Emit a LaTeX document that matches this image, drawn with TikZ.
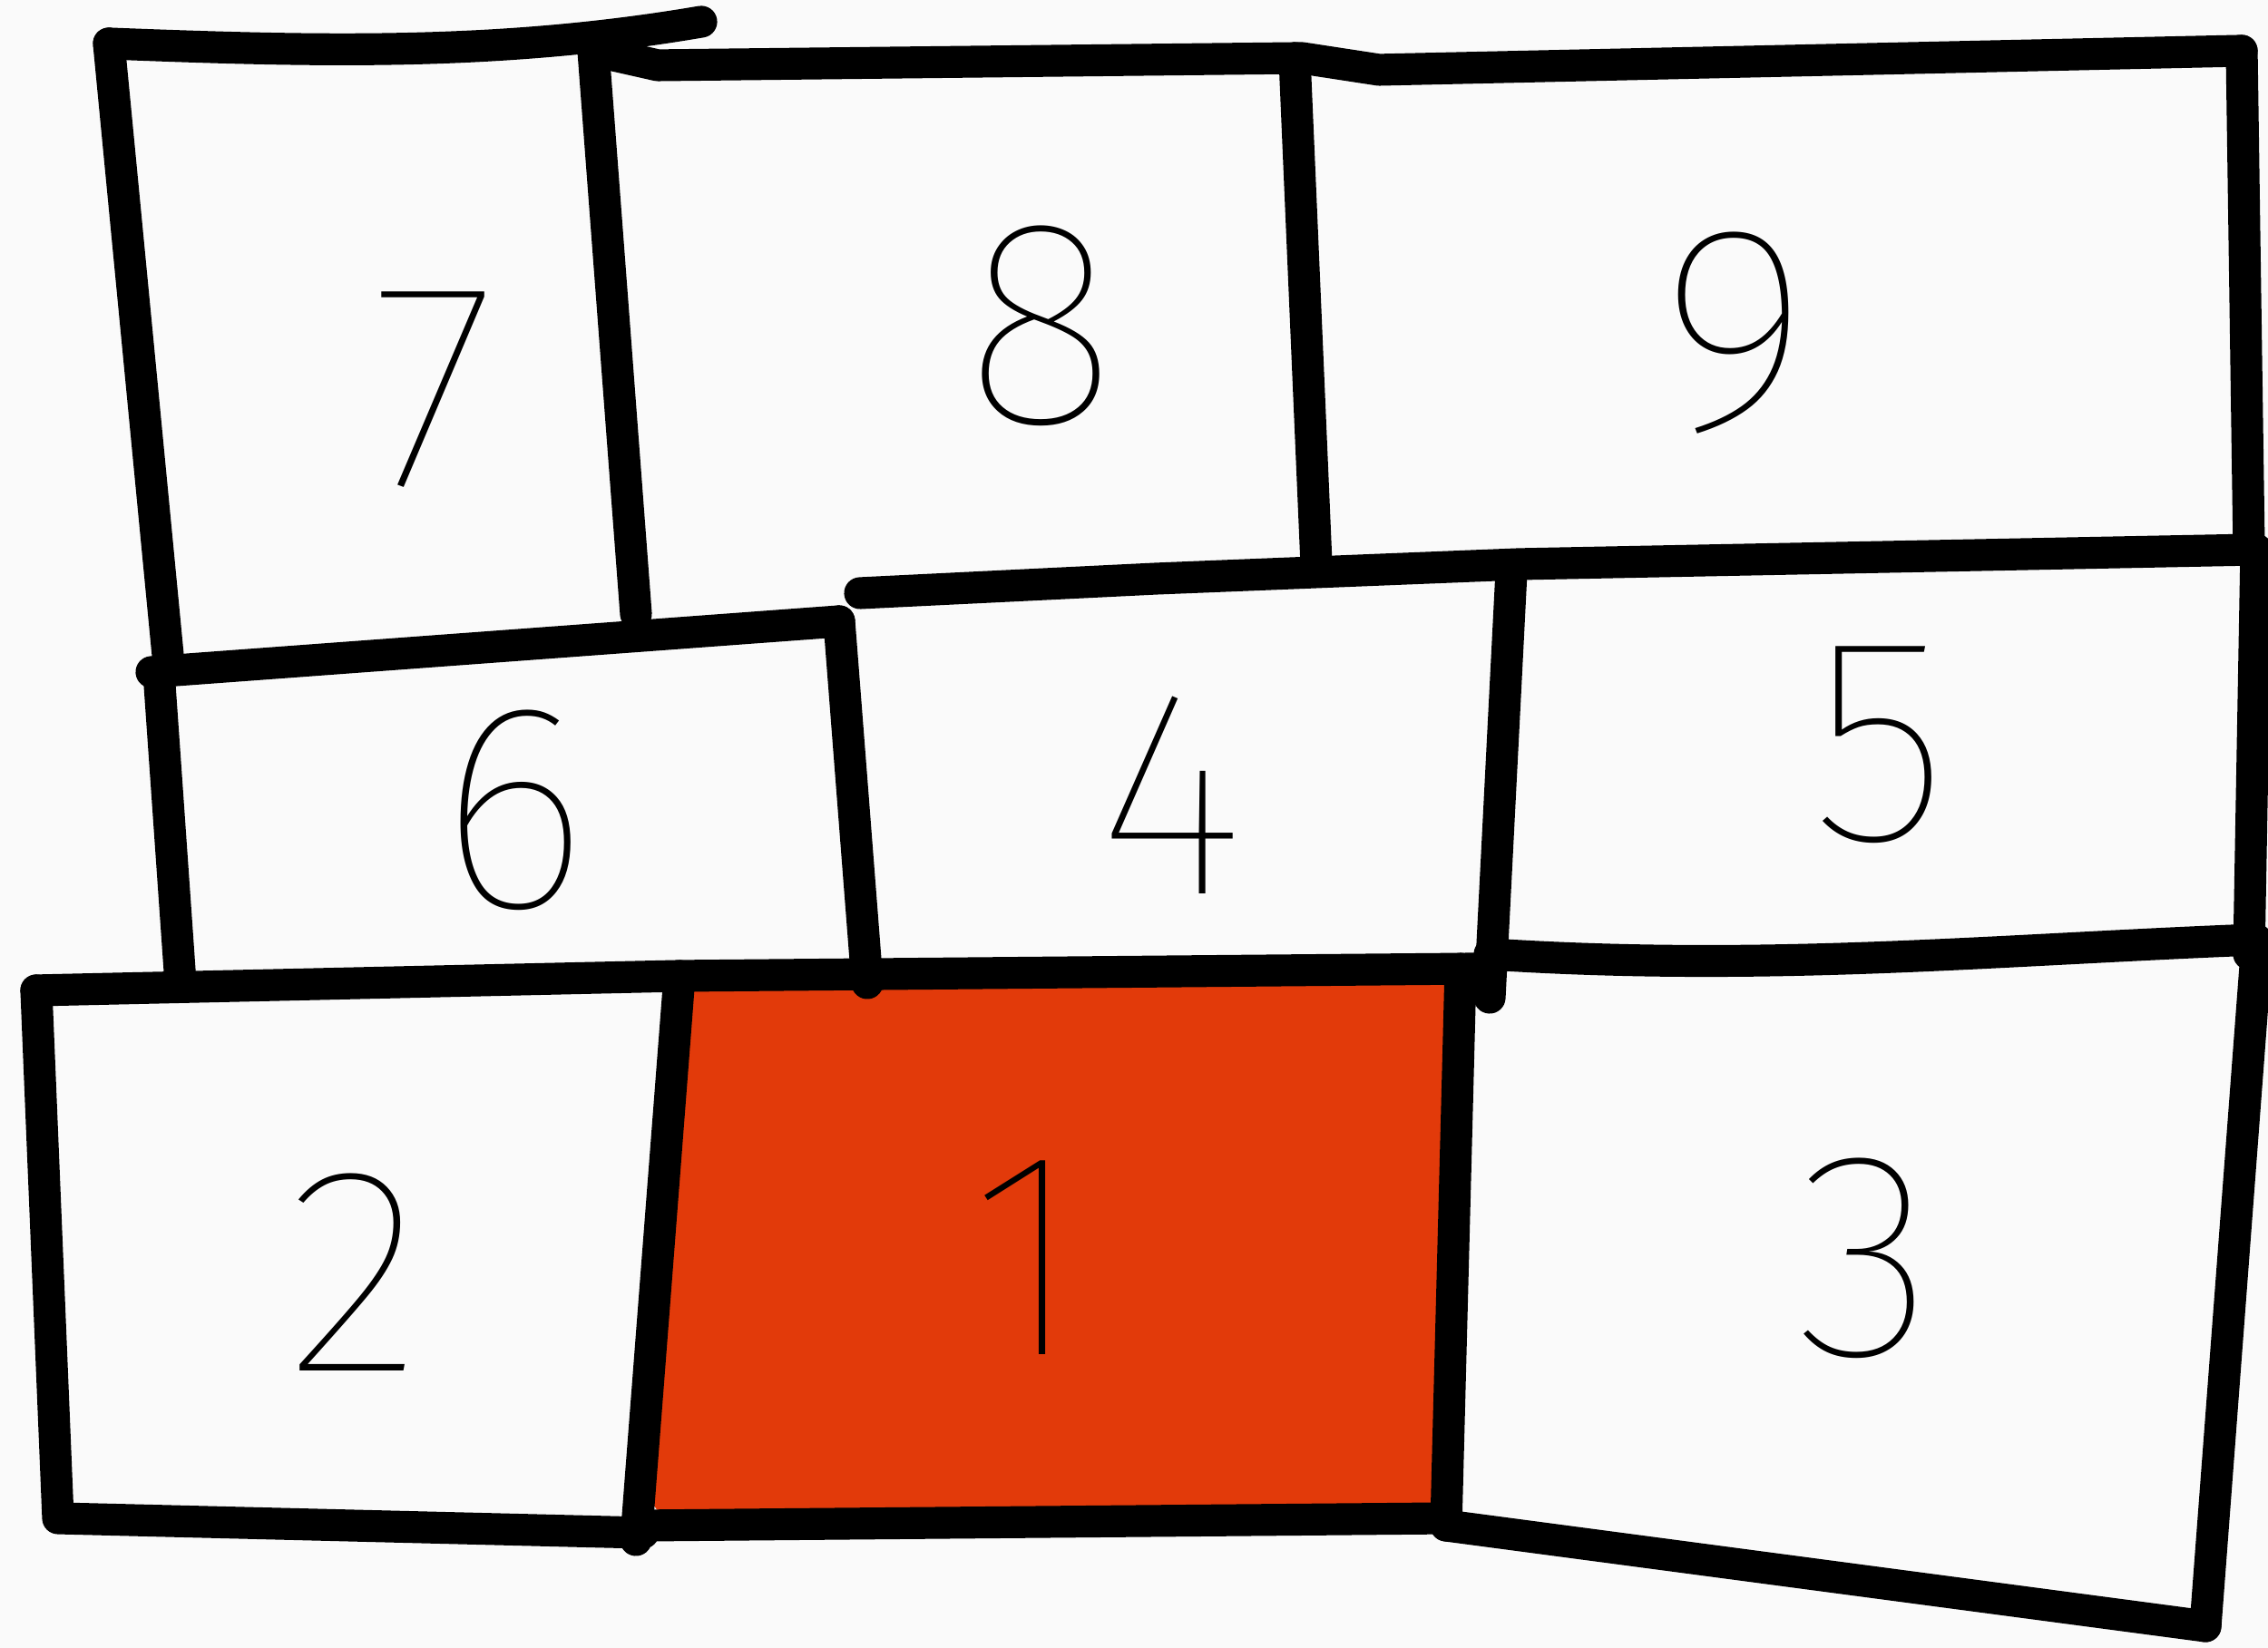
\documentclass[tikz,border=0pt]{standalone}
\usepackage{fontspec}
\newfontfamily\digitfont{Fira Sans Thin}

\begin{document}
\begin{tikzpicture}[line cap=round,line join=round,
    wall/.style={line width=10pt},
    digit/.style={font=\digitfont\fontsize{92}{92}\selectfont}]
  \useasboundingbox[fill=black!2] (0,0) rectangle (25,18.17);
  % red cell
  \fill[fill={rgb,255:red,226;green,58;blue,10}, rounded corners=8pt]
    (7.40,7.33) -- (16.02,7.40) -- (15.95,1.51) -- (7.15,1.45) -- cycle;
  % top row
  \draw[wall] (1.20,17.69) .. controls (3.5,17.60) and (5.5,17.55) .. (7.73,17.93);
  \draw[wall] (1.20,17.69) -- (1.85,10.95);
  \draw[wall] (6.54,17.61) -- (7.01,11.40);
  \draw[wall] (6.54,17.61) -- (7.25,17.45) -- (14.35,17.53) -- (15.20,17.40) -- (24.71,17.61);
  \draw[wall] (14.27,17.53) -- (14.51,11.95);
  \draw[wall] (24.71,17.61) -- (24.79,12.11);
  % middle row
  \draw[wall] (9.48,11.63) -- (12.75,11.79) -- (16.74,11.95) -- (24.87,12.11);
  \draw[wall] (1.67,10.76) -- (9.25,11.32);
  \draw[wall] (1.75,10.76) -- (1.99,7.33);
  \draw[wall] (9.25,11.32) -- (9.56,7.33);
  \draw[wall] (16.66,11.87) -- (16.42,7.17);
  \draw[wall] (24.87,12.11) -- (24.79,7.65);
  \draw[wall] (0.40,7.25) -- (7.49,7.41) -- (16.26,7.49);
  \draw[wall] (16.42,7.65) .. controls (19.5,7.45) and (22,7.7) .. (24.87,7.81);
  % bottom row
  \draw[wall] (0.40,7.25) -- (0.64,1.43) -- (7.09,1.27);
  \draw[wall] (7.49,7.41) -- (7.01,1.19);
  \draw[wall] (7.09,1.35) -- (15.94,1.43);
  \draw[wall] (16.10,7.49) -- (15.94,1.35);
  \draw[wall] (24.87,7.65) -- (24.31,0.24);
  \draw[wall] (15.94,1.35) -- (24.31,0.24);
  % digits
  \node[digit] (n7) at (4.78,13.87) {7};
  \node[digit] (n8) at (11.48,14.58) {8};
  \node[digit] (n9) at (19.13,14.50) {9};
  \node[digit] (n6) at (5.66,9.24) {6};
  \node[digit] (n4) at (12.91,9.40) {4};
  \node[digit] (n5) at (20.72,9.96) {5};
  \node[digit] (n2) at (3.91,4.14) {2};
  \node[digit] (n1) at (11.32,4.30) {1};
  \node[digit] (n3) at (20.56,4.30) {3};
\end{tikzpicture}
\end{document}
